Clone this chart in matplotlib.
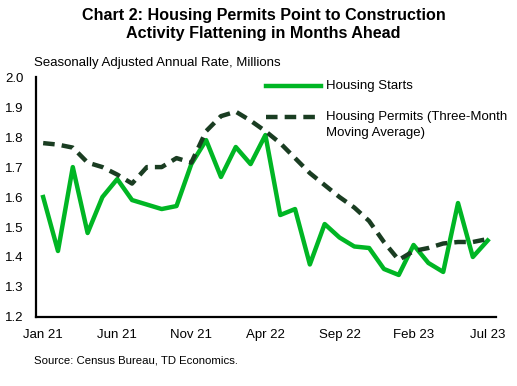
import numpy as np
import matplotlib.pyplot as plt
from matplotlib.lines import Line2D

plt.rcParams['font.family'] = ['Liberation Sans', 'DejaVu Sans']

months = ['Jan 21', 'Feb 21', 'Mar 21', 'Apr 21', 'May 21', 'Jun 21', 'Jul 21', 'Aug 21',
          'Sep 21', 'Oct 21', 'Nov 21', 'Dec 21', 'Jan 22', 'Feb 22', 'Mar 22', 'Apr 22',
          'May 22', 'Jun 22', 'Jul 22', 'Aug 22', 'Sep 22', 'Oct 22', 'Nov 22', 'Dec 22',
          'Jan 23', 'Feb 23', 'Mar 23', 'Apr 23', 'May 23', 'Jun 23', 'Jul 23']

starts = [1.60, 1.42, 1.70, 1.48, 1.60, 1.66, 1.59, 1.575, 1.56, 1.57, 1.71, 1.79,
          1.667, 1.767, 1.71, 1.807, 1.54, 1.56, 1.375, 1.51, 1.465, 1.435, 1.43, 1.36,
          1.34, 1.44, 1.38, 1.35, 1.58, 1.40, 1.455]

permits = [1.78, 1.775, 1.765, 1.715, 1.70, 1.675, 1.645, 1.70, 1.70, 1.73, 1.715, 1.82,
           1.87, 1.885, 1.855, 1.82, 1.78, 1.73, 1.68, 1.64, 1.60, 1.565, 1.52, 1.45,
           1.39, 1.42, 1.43, 1.445, 1.45, 1.45, 1.46]

tick_idx = [0, 5, 10, 15, 20, 25, 30]

x = np.arange(len(months))
W, H = 517, 386
green = '#00B624'
dark = '#1A3D22'

fig = plt.figure(figsize=(5.17, 3.86), dpi=100)
ax = fig.add_axes([0.070, 0.179, 0.889, 0.621])

ax.plot(x, starts, color=green, lw=3.2)
ax.plot(x, permits, color=dark, lw=3.2, dashes=(2.6, 1.6))

ax.set_xlim(-0.47, 30.55)
ax.set_ylim(1.2, 2.0)
ax.set_yticks(np.arange(1.2, 2.01, 0.1))
ax.set_yticklabels([f'{v:.1f}' for v in np.arange(1.2, 2.01, 0.1)], fontsize=9.5)
ax.set_xticks(tick_idx)
ax.set_xticklabels([months[i] for i in tick_idx], fontsize=9.5)
ax.tick_params(length=0, pad=9)
ax.tick_params(axis='y', pad=9)

for s in ['top', 'right']:
    ax.spines[s].set_visible(False)
ax.spines['left'].set_linewidth(1.6)
ax.spines['bottom'].set_linewidth(1.6)

# legend, drawn by hand so the dashed key sits on the first text line
def key(y, **kw):
    fig.add_artist(Line2D([266 / W, 321 / W], [1 - y / H, 1 - y / H], lw=3.2, **kw))

key(86, color=green)
fig.text(326 / W, 1 - 86 / H, 'Housing Starts', fontsize=9.5, va='center')
key(117, color=dark, dashes=(2.6, 1.6))
fig.text(326 / W, 1 - 111 / H, 'Housing Permits (Three-Month\nMoving Average)',
         fontsize=9.5, va='top', linespacing=1.45)

fig.text(0.51, 0.978, 'Chart 2: Housing Permits Point to Construction\nActivity Flattening in Months Ahead',
         ha='center', va='top', fontsize=11.6, fontweight='bold', linespacing=1.2)
fig.text(0.066, 0.836, 'Seasonally Adjusted Annual Rate, Millions', fontsize=9.5, va='center')
fig.text(0.066, 0.067, 'Source: Census Bureau, TD Economics.', fontsize=8.2, va='center')

fig.savefig('out.png', dpi=100)
